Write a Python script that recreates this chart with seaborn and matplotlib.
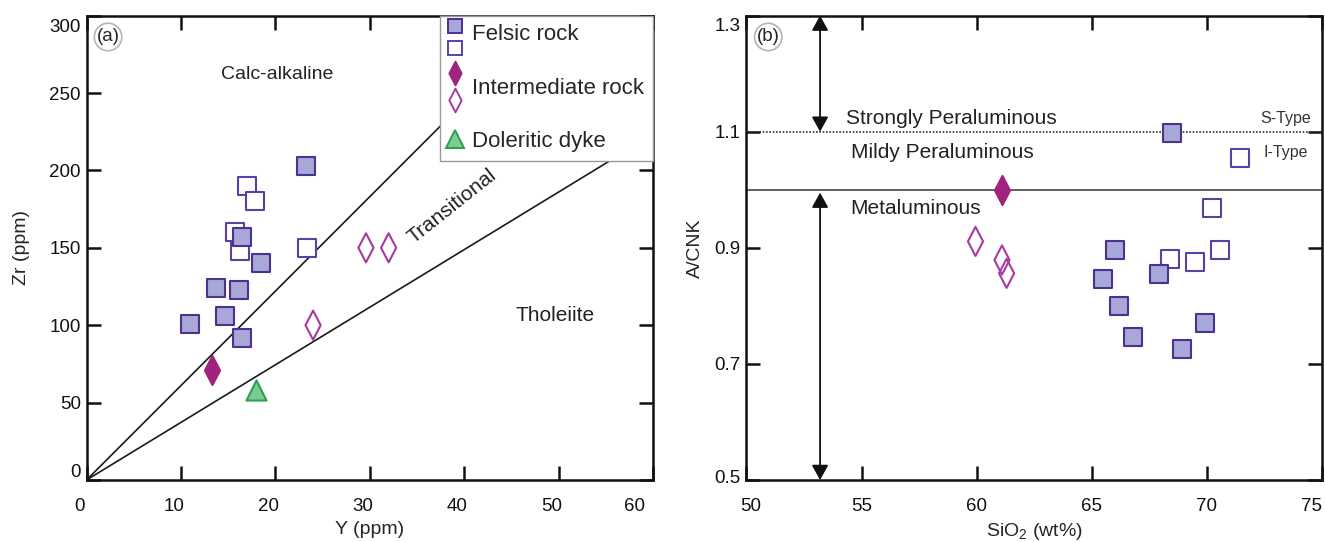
import matplotlib
matplotlib.use("Agg")
import numpy as np
import pandas as pd
import matplotlib.pyplot as plt
import matplotlib.transforms as mtrans
import seaborn as sns
from matplotlib.lines import Line2D
from matplotlib.legend_handler import HandlerBase
from matplotlib.path import Path
from matplotlib.markers import MarkerStyle
from matplotlib.ticker import MultipleLocator, FixedLocator, FormatStrFormatter

# ---------------- data: panel (a) Zr vs Y ----------------
a_felsic_filled_y = [11.0, 13.7, 14.7, 16.2, 16.5, 16.5, 18.5, 23.2]
a_felsic_filled_zr = [101, 124, 106, 123, 157, 92, 140, 203]
a_felsic_open_y = [17.0, 17.8, 15.7, 16.3, 23.4]
a_felsic_open_zr = [190, 180, 160, 148, 150]
a_inter_filled_y = [13.3]
a_inter_filled_zr = [71]
a_inter_open_y = [24.0, 29.6, 32.0]
a_inter_open_zr = [100, 150, 150]
a_dyke_y = [18.0]
a_dyke_zr = [58]
zr_y_boundaries = [6.1, 3.72]          # Zr/Y ratio lines

# ---------------- data: panel (b) A/CNK vs SiO2 ----------------
b_felsic_filled_si = [68.5, 66.0, 65.5, 66.2, 66.8, 67.9, 69.9, 68.9]
b_felsic_filled_acnk = [1.098, 0.896, 0.846, 0.800, 0.746, 0.855, 0.770, 0.725]
b_felsic_open_si = [71.45, 70.2, 70.55, 68.4, 69.5]
b_felsic_open_acnk = [1.055, 0.969, 0.896, 0.880, 0.876]
b_inter_filled_si = [61.1]
b_inter_filled_acnk = [1.0]
b_inter_open_si = [59.95, 61.1, 61.3]
b_inter_open_acnk = [0.911, 0.879, 0.856]
acnk_dotted = 1.1
acnk_solid = 1.0

legend_labels = ["Felsic rock", "Intermediate rock", "Doleritic dyke"]

# ---------------- style ----------------
sns.set_style("ticks")
plt.rcParams["font.family"] = ["Liberation Sans", "DejaVu Sans"]
plt.rcParams["mathtext.fontset"] = "custom"
plt.rcParams["mathtext.rm"] = "Liberation Sans"

SQ_FACE = "#a7a7d8"
SQ_EDGE = "#4b3192"
SQ_OPEN = "#5b3fa2"
DI_FACE = "#a0237e"
DI_OPEN = "#a63aa0"
TR_FACE = "#7ccb92"
TR_EDGE = "#2f9e50"

diamond = MarkerStyle(Path([(0, 1), (0.52, 0), (0, -1), (-0.52, 0), (0, 1)],
                           [Path.MOVETO, Path.LINETO, Path.LINETO, Path.LINETO, Path.CLOSEPOLY]))

S_SQ = 180
S_DI = 440
S_TR = 210
LW = 1.5

fig = plt.figure(figsize=(13.25, 5.42), dpi=100)
axa = fig.add_axes([0.0653, 0.1144, 0.4275, 0.8568])
axb = fig.add_axes([0.5633, 0.1144, 0.4345, 0.8568])


def scat(ax, x, y, marker, s, face, edge, z):
    df = pd.DataFrame({"x": x, "y": y})
    sns.scatterplot(data=df, x="x", y="y", ax=ax, marker=marker, s=s,
                    facecolor=face, edgecolor=edge, linewidth=LW, zorder=z,
                    legend=False)


def style_axes(ax, ylabelpad):
    for sp in ax.spines.values():
        sp.set_linewidth(1.8)
        sp.set_color("#111111")
    ax.tick_params(direction="in", length=10, width=1.8, top=True, right=True,
                   labelsize=13.5, colors="#111111")
    ax.tick_params(axis="x", pad=13)
    ax.tick_params(axis="y", pad=4)
    ax.set_xlabel(ax.get_xlabel(), fontsize=14, labelpad=4)
    ax.set_ylabel(ax.get_ylabel(), fontsize=14, labelpad=ylabelpad)


def shift_label(label, dx_px, dy_px, ha=None):
    off = mtrans.ScaledTranslation(dx_px / 100, dy_px / 100, fig.dpi_scale_trans)
    label.set_transform(label.get_transform() + off)
    if ha:
        label.set_horizontalalignment(ha)


# ---------------- panel (a) ----------------
for slope in zr_y_boundaries:
    axa.axline((0, 0), slope=slope, color="#1a1a1a", lw=1.2, zorder=1)

scat(axa, a_felsic_open_y, a_felsic_open_zr, "s", S_SQ, "white", SQ_OPEN, 3)
scat(axa, a_felsic_filled_y, a_felsic_filled_zr, "s", S_SQ, SQ_FACE, SQ_EDGE, 4)
scat(axa, a_inter_open_y, a_inter_open_zr, diamond, S_DI, "none", DI_OPEN, 3)
scat(axa, a_inter_filled_y, a_inter_filled_zr, diamond, S_DI, DI_FACE, DI_FACE, 4)
scat(axa, a_dyke_y, a_dyke_zr, "^", S_TR, TR_FACE, TR_EDGE, 4)

axa.set_xlim(0, 60)
axa.set_ylim(0, 300)
axa.xaxis.set_major_locator(FixedLocator([0, 10, 20, 30, 40, 50, 60]))
axa.yaxis.set_major_locator(FixedLocator([0, 50, 100, 150, 200, 250, 300]))
axa.set_xlabel("Y (ppm)")
axa.set_ylabel("Zr (ppm)")
style_axes(axa, 14)

axa.text(20.2, 259, "Calc-alkaline", fontsize=14, ha="center", va="baseline", color="#222222")
axa.text(45.4, 103, "Tholeiite", fontsize=15, ha="left", va="baseline", color="#222222")
axa.text(38.7, 177, "Transitional", fontsize=15, ha="center", va="center",
         rotation=38.5, rotation_mode="anchor", color="#222222")
axa.text(0.038, 0.954, "(a)", transform=axa.transAxes, fontsize=13.5, ha="center", va="center",
         bbox=dict(boxstyle="circle,pad=0.12", fc="white", ec="#b5b5b5", lw=1.2))


# legend with stacked markers
class StackHandler(HandlerBase):
    def __init__(self, offsets, xshift=-0.18):
        super().__init__()
        self.offsets = offsets
        self.xshift = xshift

    def create_artists(self, legend, orig_handle, xdescent, ydescent, width, height, fontsize, trans):
        arts = []
        for h, off in zip(orig_handle, self.offsets):
            ln = Line2D([width / 2 - xdescent + self.xshift * fontsize],
                        [height / 2 - ydescent + off * fontsize],
                        marker=h.get_marker(), markersize=h.get_markersize(),
                        markerfacecolor=h.get_markerfacecolor(),
                        markeredgecolor=h.get_markeredgecolor(),
                        markeredgewidth=h.get_markeredgewidth(), linestyle="none")
            ln.set_transform(trans)
            arts.append(ln)
        return arts


h_fel = (Line2D([], [], marker="s", markersize=10.5, mfc=SQ_FACE, mec=SQ_EDGE, mew=1.4, ls="none"),
         Line2D([], [], marker="s", markersize=10.5, mfc="white", mec=SQ_OPEN, mew=1.4, ls="none"))
h_int = (Line2D([], [], marker=diamond, markersize=17, mfc=DI_FACE, mec=DI_FACE, mew=1.4, ls="none"),
         Line2D([], [], marker=diamond, markersize=17, mfc="none", mec=DI_OPEN, mew=1.4, ls="none"))
h_dyk = (Line2D([], [], marker="^", markersize=13, mfc=TR_FACE, mec=TR_EDGE, mew=1.4, ls="none"),)

leg = axa.legend([h_fel, h_int, h_dyk], legend_labels, loc="upper right",
                 borderaxespad=0, fontsize=16, frameon=True, fancybox=False,
                 framealpha=1, edgecolor="#999999", borderpad=0.4,
                 handlelength=0.9, handletextpad=0.15, labelspacing=1.45,
                 handler_map={h_fel: StackHandler([0.32, -0.68]),
                              h_int: StackHandler([0.59, -0.63]),
                              h_dyk: StackHandler([0.0])})
leg.get_frame().set_linewidth(1.0)
leg.set_zorder(6)

# ---------------- panel (b) ----------------
axb.axhline(acnk_dotted, color="#333333", lw=1.2, ls=(0, (1, 1)), zorder=1)
axb.axhline(acnk_solid, color="#333333", lw=1.1, zorder=1)

scat(axb, b_felsic_open_si, b_felsic_open_acnk, "s", S_SQ, "white", SQ_OPEN, 3)
scat(axb, b_felsic_filled_si, b_felsic_filled_acnk, "s", S_SQ, SQ_FACE, SQ_EDGE, 4)
scat(axb, b_inter_open_si, b_inter_open_acnk, diamond, S_DI, "none", DI_OPEN, 3)
scat(axb, b_inter_filled_si, b_inter_filled_acnk, diamond, S_DI, DI_FACE, DI_FACE, 4)

axb.set_xlim(50, 75)
axb.set_ylim(0.5, 1.3)
axb.xaxis.set_major_locator(FixedLocator([50, 55, 60, 65, 70, 75]))
axb.yaxis.set_major_locator(FixedLocator([0.5, 0.7, 0.9, 1.1, 1.3]))
axb.yaxis.set_major_formatter(FormatStrFormatter("%.1f"))
axb.set_xlabel("SiO$_2$ (wt%)")
axb.set_ylabel("A/CNK")
style_axes(axb, 8)

arrow_kw = dict(arrowstyle="<|-|>,head_length=0.9,head_width=0.5", color="#111111",
                lw=1.3, shrinkA=0, shrinkB=0)
axb.annotate("", xy=(53.2, 1.3), xytext=(53.2, acnk_dotted), arrowprops=arrow_kw)
axb.annotate("", xy=(53.2, 0.995), xytext=(53.2, 0.5), arrowprops=arrow_kw)

axb.text(54.34, 1.1128, "Strongly Peraluminous", fontsize=15, ha="left", va="baseline", color="#222222")
axb.text(54.53, 1.054, "Mildy Peraluminous", fontsize=15, ha="left", va="baseline", color="#222222")
axb.text(54.53, 0.958, "Metaluminous", fontsize=15, ha="left", va="baseline", color="#222222")
axb.text(74.51, 1.115, "S-Type", fontsize=11.5, ha="right", va="baseline", color="#333333")
axb.text(74.38, 1.057, "I-Type", fontsize=11.5, ha="right", va="baseline", color="#333333")
axb.text(0.038, 0.954, "(b)", transform=axb.transAxes, fontsize=13.5, ha="center", va="center",
         bbox=dict(boxstyle="circle,pad=0.12", fc="white", ec="#b5b5b5", lw=1.2))

# tick-label placement as in the reference
xl_a = axa.xaxis.get_majorticklabels()
for lab in xl_a[:-1]:
    shift_label(lab, -7, 0)
shift_label(xl_a[-1], -8, 0, ha="right")
yl_a = axa.yaxis.get_majorticklabels()
shift_label(yl_a[0], 0, 9)
shift_label(yl_a[-1], 0, -10)
xl_b = axb.xaxis.get_majorticklabels()
shift_label(xl_b[0], 4, 0)
shift_label(xl_b[-1], 0, 0, ha="right")
yl_b = axb.yaxis.get_majorticklabels()
shift_label(yl_b[0], 0, 3)
shift_label(yl_b[-1], 0, -9)

fig.savefig("out.png", dpi=100)
